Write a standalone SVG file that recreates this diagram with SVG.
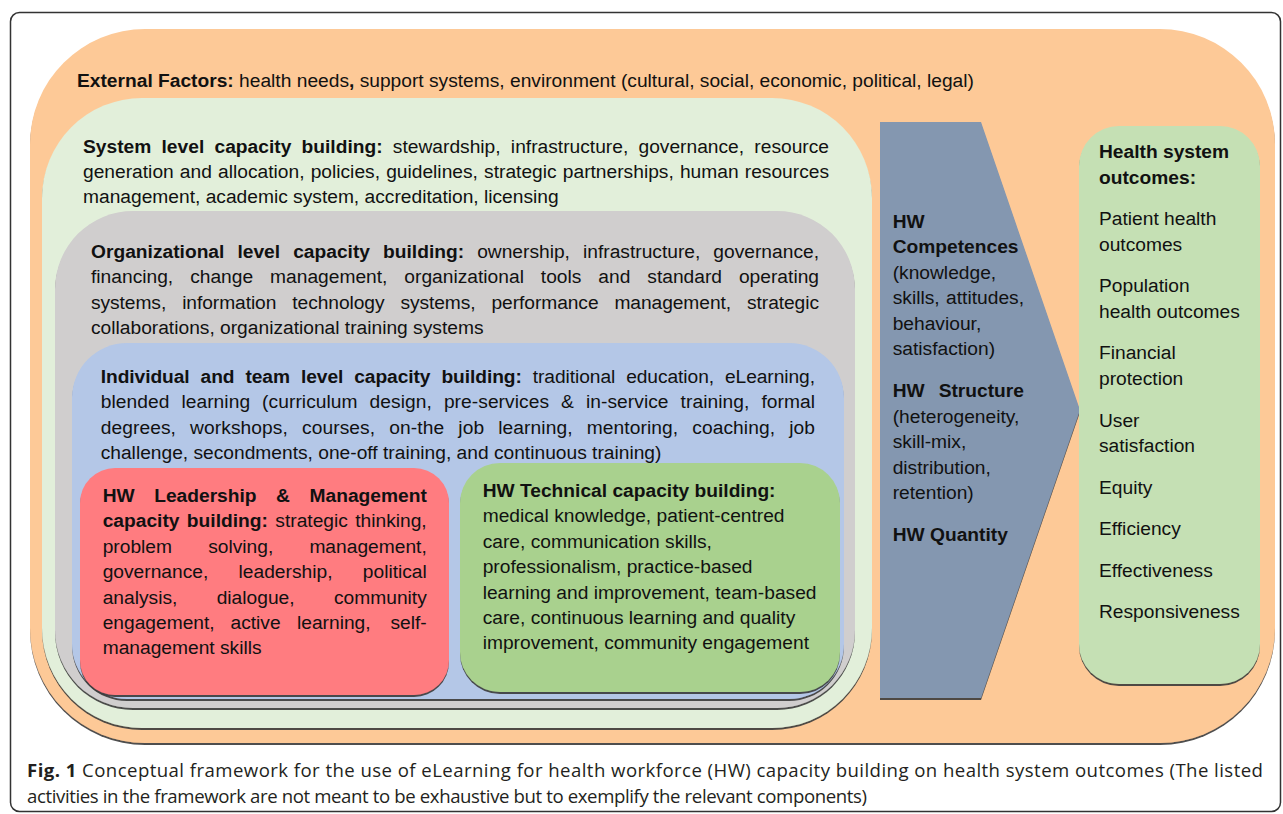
<svg xmlns="http://www.w3.org/2000/svg" width="1283" height="814" viewBox="0 0 1283 814">
<style>
text{font-family:"Liberation Sans",Arial,sans-serif;font-size:19.2px;fill:#111;}
.b{font-weight:bold;}
.cap{font-family:"Open Sans","Noto Sans",sans-serif;font-size:18.6px;fill:#231F20;}
.sh{filter:url(#sh);}
</style>
<defs>
<filter id="sh" x="-5%" y="-5%" width="110%" height="110%">
<feDropShadow dx="0" dy="2" stdDeviation="0.7" flood-color="#3a3a3a" flood-opacity="0.9"/>
</filter>
</defs>
<rect x="10.5" y="12.5" width="1270" height="799" rx="9" fill="#fff" stroke="#333" stroke-width="1.5"/>

<g id="external">
<rect class="sh" x="30" y="29" width="1245" height="714" rx="115" fill="#FDC997"/>
<text x="77" y="87"><tspan class="b">External Factors:</tspan> health needs<tspan class="b">,</tspan> support systems, environment (cultural, social, economic, political, legal)</text>
</g>

<g id="system">
<rect class="sh" x="42" y="98" width="830" height="630" rx="100" fill="#E2EFDA"/>
<text x="83" y="152.5" textLength="746" lengthAdjust="spacing" word-spacing="4.9"><tspan class="b">System level capacity building:</tspan> stewardship, infrastructure, governance, resource</text>
<text x="83" y="177.8" textLength="746" lengthAdjust="spacing" word-spacing="0.8">generation and allocation, policies, guidelines, strategic partnerships, human resources</text>
<text x="83" y="203">management, academic system, accreditation, licensing</text>
</g>

<g id="organizational">
<rect class="sh" x="55" y="211" width="800" height="497" rx="78" fill="#D0CECE"/>
<text x="91" y="257.5" textLength="728" lengthAdjust="spacing" word-spacing="7.7"><tspan class="b">Organizational level capacity building:</tspan> ownership, infrastructure, governance,</text>
<text x="91" y="283" textLength="728" lengthAdjust="spacing" word-spacing="11.6">financing, change management, organizational tools and standard operating</text>
<text x="91" y="308.5" textLength="728" lengthAdjust="spacing" word-spacing="10.7">systems, information technology systems, performance management, strategic</text>
<text x="91" y="334">collaborations, organizational training systems</text>
</g>

<g id="individual">
<rect class="sh" x="72" y="343" width="772" height="356" rx="55" fill="#B4C7E7"/>
<text x="100.7" y="382.5" textLength="714.3" lengthAdjust="spacing" word-spacing="5.7"><tspan class="b">Individual and team level capacity building:</tspan> traditional education, eLearning,</text>
<text x="100.7" y="408" textLength="714.3" lengthAdjust="spacing" word-spacing="6.6">blended learning (curriculum design, pre-services &amp; in-service training, formal</text>
<text x="100.7" y="433.5" textLength="714.3" lengthAdjust="spacing" word-spacing="8.7">degrees, workshops, courses, on-the job learning, mentoring, coaching, job</text>
<text x="100.7" y="459">challenge, secondments, one-off training, and continuous training)</text>
</g>

<g id="leadership">
<rect class="sh" x="80" y="468" width="369" height="227" rx="35" fill="#FF7C80"/>
<text y="501.7" class="b"><tspan x="102.7">HW</tspan><tspan x="154.2">Leadership</tspan><tspan x="276.1">&amp;</tspan><tspan x="309.5">Management</tspan></text>
<text x="102.7" y="527.1" textLength="324" lengthAdjust="spacing" word-spacing="2"><tspan class="b">capacity building:</tspan> strategic thinking,</text>
<text y="552.6"><tspan x="102.7">problem</tspan><tspan x="208.2">solving,</tspan><tspan x="309.4">management,</tspan></text>
<text y="578"><tspan x="102.7">governance,</tspan><tspan x="238.6">leadership,</tspan><tspan x="362.8">political</tspan></text>
<text y="603.5"><tspan x="102.7">analysis,</tspan><tspan x="216.7">dialogue,</tspan><tspan x="334">community</tspan></text>
<text y="628.9"><tspan x="102.7">engagement,</tspan><tspan x="230.5">active</tspan><tspan x="297">learning,</tspan><tspan x="390.5">self-</tspan></text>
<text x="102.7" y="654.4">management skills</text>
</g>

<g id="technical">
<rect class="sh" x="460" y="463" width="380" height="229" rx="40" fill="#A9D18E"/>
<text x="482.7" y="496.7" class="b">HW Technical capacity building:</text>
<text x="482.7" y="522.1">medical knowledge, patient-centred</text>
<text x="482.7" y="547.6">care, communication skills,</text>
<text x="482.7" y="573">professionalism, practice-based</text>
<text x="482.7" y="598.5">learning and improvement, team-based</text>
<text x="482.7" y="623.9">care, continuous learning and quality</text>
<text x="482.7" y="649.4">improvement, community engagement</text>
</g>

<g id="hw-arrow">
<polygon class="sh" points="880,122 981,122 1080,410 981,698 880,698" fill="#8497B0"/>
<text x="892.7" y="228" class="b">HW</text>
<text x="892.7" y="253.3" class="b">Competences</text>
<text x="892.7" y="278.7">(knowledge,</text>
<text x="892.7" y="304.1" textLength="131.3" lengthAdjust="spacing" word-spacing="1.1">skills, attitudes,</text>
<text x="892.7" y="329.5">behaviour,</text>
<text x="892.7" y="355">satisfaction)</text>
<text x="892.7" y="397.3" class="b" textLength="131.3" lengthAdjust="spacing" word-spacing="8.6">HW Structure</text>
<text x="892.7" y="422.7">(heterogeneity,</text>
<text x="892.7" y="448.1">skill-mix,</text>
<text x="892.7" y="473.5">distribution,</text>
<text x="892.7" y="499">retention)</text>
<text x="892.7" y="541" class="b">HW Quantity</text>
</g>

<g id="outcomes">
<rect class="sh" x="1079" y="126" width="181" height="558" rx="40" fill="#C5E0B4"/>
<text x="1099" y="158.3" class="b">Health system</text>
<text x="1099" y="183.6" class="b">outcomes:</text>
<text x="1099" y="225">Patient health</text>
<text x="1099" y="250.5">outcomes</text>
<text x="1099" y="292">Population</text>
<text x="1099" y="317.5">health outcomes</text>
<text x="1099" y="359">Financial</text>
<text x="1099" y="384.5">protection</text>
<text x="1099" y="426.5">User</text>
<text x="1099" y="452">satisfaction</text>
<text x="1099" y="493.5">Equity</text>
<text x="1099" y="535">Efficiency</text>
<text x="1099" y="576.7">Effectiveness</text>
<text x="1099" y="618.3">Responsiveness</text>
</g>

<g id="connectors"></g>

<g id="caption">
<text class="cap" x="27" y="776.5" textLength="1236" lengthAdjust="spacing"><tspan font-weight="bold">Fig. 1</tspan> Conceptual framework for the use of eLearning for health workforce (HW) capacity building on health system outcomes (The listed</text>
<text class="cap" x="27" y="802.5" textLength="840" lengthAdjust="spacing">activities in the framework are not meant to be exhaustive but to exemplify the relevant components)</text>
</g>
</svg>
